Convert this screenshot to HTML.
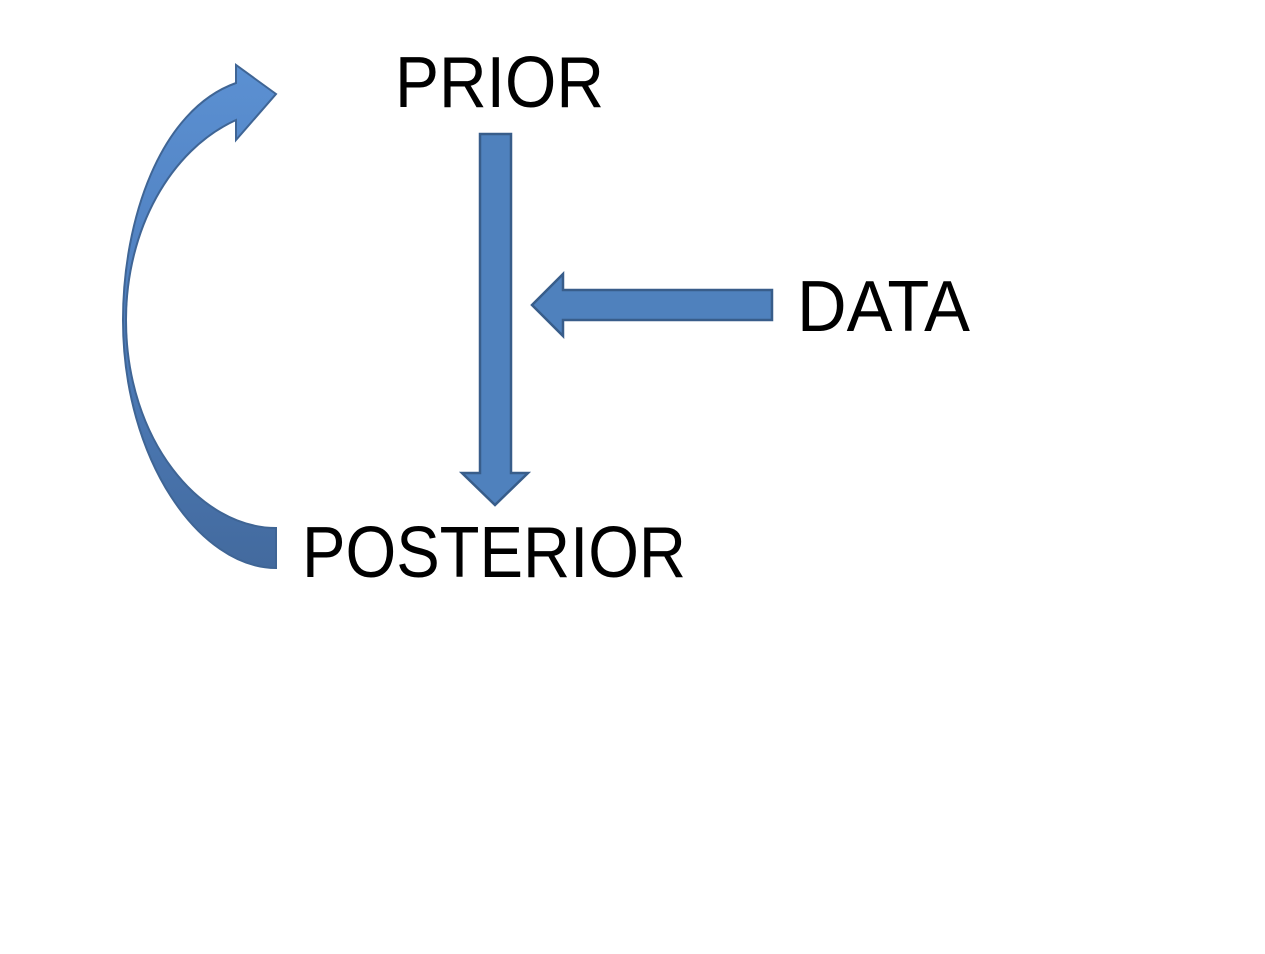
<!DOCTYPE html>
<html><head><style>html,body{margin:0;padding:0;background:#fff;}</style></head>
<body>
<svg width="1265" height="949" viewBox="0 0 1265 949" xmlns="http://www.w3.org/2000/svg">
<defs>
<linearGradient id="g" x1="0" y1="0" x2="0" y2="1">
<stop offset="0" stop-color="#5b90d2"/>
<stop offset="0.5" stop-color="#4f7fbe"/>
<stop offset="1" stop-color="#436a9e"/>
</linearGradient>
</defs>
<path d="M276,94 L236,65 L236,83 C160,110 123,220 123,320 C123,460 200,568 276,568 L276,528 C200,528 126,440 126,320 C126,230 170,150 236,120 L236,140 Z" fill="url(#g)" stroke="#3f6595" stroke-width="2"/>
<path d="M480,134 L511,134 L511,473 L528,473 L495,505 L462,473 L480,473 Z" fill="#4f81bd" stroke="#385d8a" stroke-width="2.5"/>
<path d="M772,290 L772,320 L563,320 L563,336 L532,305 L563,274 L563,290 Z" fill="#4f81bd" stroke="#385d8a" stroke-width="2.5"/>
<g font-family="'Liberation Sans', sans-serif" font-size="72" fill="#000">
<text x="395" y="107" textLength="209" lengthAdjust="spacingAndGlyphs">PRIOR</text>
<text x="797" y="331" textLength="173" lengthAdjust="spacingAndGlyphs">DATA</text>
<text x="302" y="577" textLength="384" lengthAdjust="spacingAndGlyphs">POSTERIOR</text>
</g>
</svg>
</body></html>
